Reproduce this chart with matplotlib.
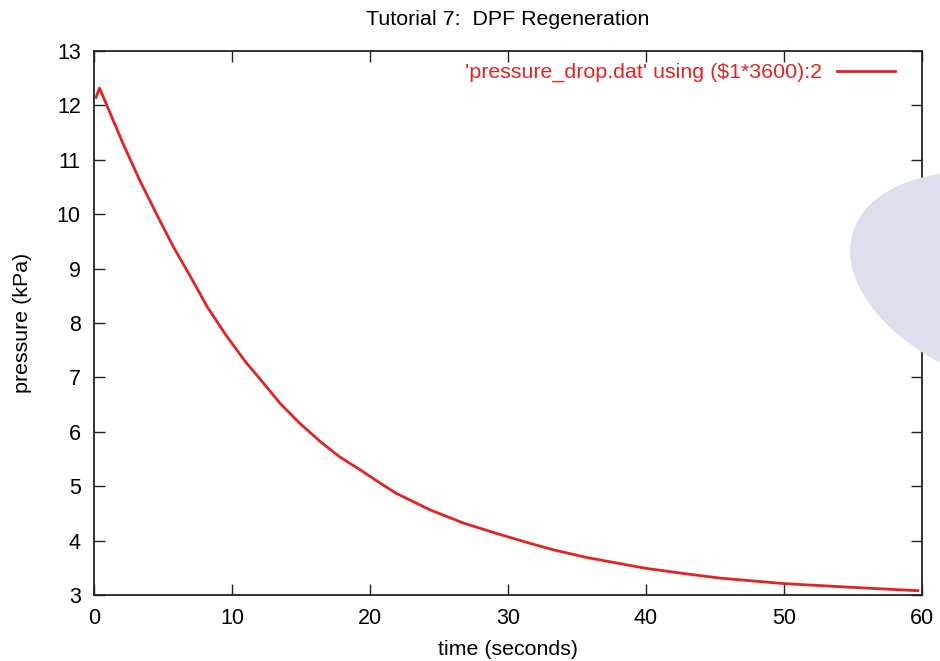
import matplotlib
matplotlib.use("Agg")
import matplotlib.pyplot as plt
from matplotlib.patches import Ellipse


# values
time_s = [0.15, 0.4, 0.9, 2.1, 3.3, 4.5, 5.75, 7.0, 8.2, 9.5, 11.0, 12.0, 13.5, 14.9, 16.4,
          17.8, 19.3, 20.6, 21.9, 24.4, 26.8, 29.2, 31.6, 33.3, 35.7, 40.0, 42.9, 45.4,
          50.0, 55.0, 59.7]
pressure_kpa = [12.15, 12.32, 12.02, 11.30, 10.63, 10.02, 9.40, 8.85, 8.30, 7.80, 7.28, 6.98,
                6.52, 6.16, 5.82, 5.54, 5.30, 5.08, 4.87, 4.56, 4.32, 4.13, 3.95, 3.83, 3.69,
                3.49, 3.39, 3.31, 3.21, 3.14, 3.08]

x_ticks = [0, 10, 20, 30, 40, 50, 60]
y_ticks = [3, 4, 5, 6, 7, 8, 9, 10, 11, 12, 13]

LINE_RED = "#e02424"

plt.rcParams.update({
    "font.family": ["Liberation Sans", "DejaVu Sans"],
    "font.size": 15.5,
})

fig = plt.figure(figsize=(9.4, 6.61), dpi=100)
ax = fig.add_axes([0.1, 0.0998, 0.8809, 0.823])
ax.set_facecolor("none")

# pale watermark blob behind the right edge
blob = Ellipse((1025, 661 - 285), 360, 210, angle=-17, transform=None,
               facecolor="#dddfec", edgecolor="none", zorder=0)
fig.patches.append(blob)

ax.plot(time_s, pressure_kpa, color=LINE_RED, linewidth=2.0,
        label="'pressure_drop.dat' using ($1*3600):2")

ax.set_xlim(0, 60)
ax.set_ylim(3, 13)
ax.set_xticks(x_ticks)
ax.set_yticks(y_ticks)
ax.tick_params(direction="in", length=8, width=1, top=True, right=True,
               labelsize=15.5, pad=9.5, color="#222222", labelcolor="black")
for sp in ax.spines.values():
    sp.set_linewidth(1.3)
    sp.set_color("#222222")

ax.set_title("Tutorial 7:  DPF Regeneration", fontsize=15.4, pad=19)
ax.set_xlabel("time (seconds)", fontsize=15.4, labelpad=8)
ax.set_ylabel("pressure (kPa)", fontsize=15.4, labelpad=18)

ax.legend(loc="upper right", bbox_to_anchor=(0.967, 0.978), frameon=False,
          markerfirst=False, fontsize=15.4, labelcolor=LINE_RED,
          handlelength=2.7, handletextpad=0.7, borderaxespad=0, borderpad=0)

fig.savefig("out.png", dpi=100)
